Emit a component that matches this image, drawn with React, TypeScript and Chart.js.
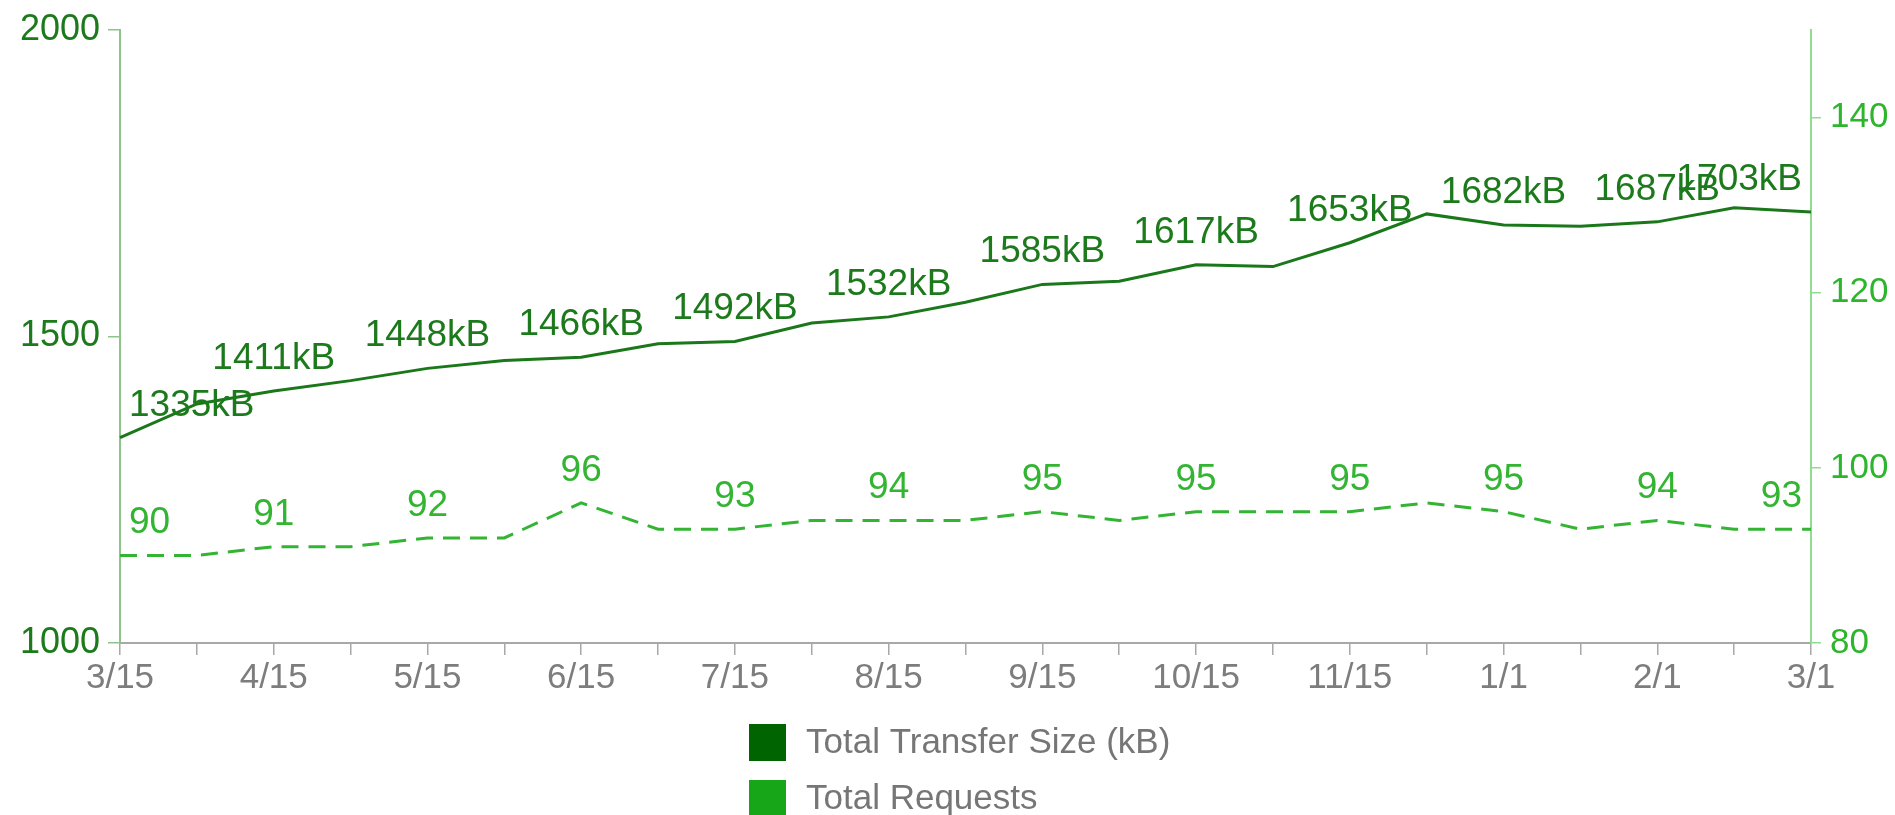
import React, { useEffect, useRef } from 'react';
import { Chart, registerables } from 'chart.js';

Chart.register(...registerables);

// ---- data ----
const dates = ['3/15', '4/1', '4/15', '5/1', '5/15', '6/1', '6/15', '7/1', '7/15', '8/1', '8/15', '9/1', '9/15', '10/1', '10/15', '11/1', '11/15', '12/15', '1/1', '1/15', '2/1', '2/15', '3/1'];
const xTickLabels = ['3/15', '', '4/15', '', '5/15', '', '6/15', '', '7/15', '', '8/15', '', '9/15', '', '10/15', '', '11/15', '', '1/1', '', '2/1', '', '3/1'];
const transferSizeKB = [1335, 1390, 1411, 1428, 1448, 1461, 1466, 1488, 1492, 1522, 1532, 1556, 1585, 1590, 1617, 1614, 1653, 1700, 1682, 1680, 1687, 1710, 1703];
const totalRequests = [90, 90, 91, 91, 92, 92, 96, 93, 93, 94, 94, 94, 95, 94, 95, 95, 95, 96, 95, 93, 94, 93, 93];
const labeledPoints = [0, 2, 4, 6, 8, 10, 12, 14, 16, 18, 20, 22];
const leftTicks = [1000, 1500, 2000];
const rightTicks = [80, 100, 120, 140];
const seriesNames = ['Total Transfer Size (kB)', 'Total Requests'];

const FONT = '"Liberation Sans", Arial, Helvetica, sans-serif';
const W = 1895;
const H = 815;

const labelColors = ['#1c7a1c', '#33b533'];
const labelFormat = [(v: number) => v + 'kB', (v: number) => String(v)];

const valueLabels = {
  id: 'valueLabels',
  afterDatasetsDraw(chart: any) {
    const { ctx, chartArea } = chart;
    chart.data.datasets.forEach((ds: any, di: number) => {
      const meta = chart.getDatasetMeta(di);
      ctx.save();
      ctx.font = '37px ' + FONT;
      ctx.fillStyle = labelColors[di];
      ctx.textBaseline = 'alphabetic';
      ctx.textAlign = 'left';
      labeledPoints.forEach((i) => {
        const pt = meta.data[i];
        if (!pt) return;
        const text = labelFormat[di](ds.data[i]);
        const w = ctx.measureText(text).width;
        let x = pt.x - w / 2;
        x = Math.max(chartArea.left + 9, Math.min(x, chartArea.right - 9 - w));
        ctx.fillText(text, x, pt.y - 22);
      });
      ctx.restore();
    });
  },
};

const stackedLegend = {
  id: 'stackedLegend',
  afterDraw(chart: any) {
    const { ctx, chartArea } = chart;
    const box = 37;
    const gap = 20;
    const rowStep = 56;
    const top = 724;
    ctx.save();
    ctx.font = '35px ' + FONT;
    let maxW = 0;
    chart.data.datasets.forEach((ds: any) => {
      maxW = Math.max(maxW, ctx.measureText(ds.label).width);
    });
    const blockW = box + gap + maxW;
    const x0 = Math.round((chartArea.left + chartArea.right) / 2 - blockW / 2) - 6;
    chart.data.datasets.forEach((ds: any, i: number) => {
      const y = top + i * rowStep;
      ctx.fillStyle = ds.backgroundColor;
      ctx.fillRect(x0, y, box, box);
      ctx.fillStyle = '#767676';
      ctx.textBaseline = 'middle';
      ctx.textAlign = 'left';
      ctx.fillText(ds.label, x0 + box + gap, y + box / 2 + 1);
    });
    ctx.restore();
  },
};

export default function App() {
  const canvasRef = useRef<HTMLCanvasElement | null>(null);

  useEffect(() => {
    if (!canvasRef.current) return;
    Chart.defaults.font.family = FONT;
    const chart = new Chart(canvasRef.current, {
      type: 'line',
      data: {
        labels: dates,
        datasets: [
          {
            label: seriesNames[0],
            data: transferSizeKB,
            yAxisID: 'y',
            borderColor: '#1a781a',
            backgroundColor: '#006400',
            borderWidth: 3,
            pointRadius: 0,
            tension: 0,
            fill: false,
          },
          {
            label: seriesNames[1],
            data: totalRequests,
            yAxisID: 'y1',
            borderColor: '#33b433',
            backgroundColor: '#17a617',
            borderWidth: 3,
            borderDash: [17, 10],
            pointRadius: 0,
            tension: 0,
            fill: false,
          },
        ],
      },
      options: {
        responsive: false,
        animation: false,
        devicePixelRatio: 1,
        layout: { padding: { top: 26, left: 0, right: 0, bottom: 0 } },
        plugins: {
          legend: { display: false },
          tooltip: { enabled: false },
        },
        scales: {
          x: {
            type: 'category',
            offset: false,
            grid: {
              drawOnChartArea: false,
              drawTicks: true,
              tickLength: 12,
              tickColor: '#a8a8a8',
              lineWidth: 1.5,
            },
            border: { display: true, color: '#a8a8a8', width: 2 },
            ticks: {
              autoSkip: false,
              maxRotation: 0,
              minRotation: 0,
              padding: 2,
              color: '#7d7d7d',
              font: { size: 35, family: FONT },
              callback: (_v: any, i: number) => xTickLabels[i],
            },
            afterFit: (s: any) => {
              s.height = H - 643;
            },
          },
          y: {
            type: 'linear',
            position: 'left',
            min: 1000,
            max: 2000,
            grid: {
              drawOnChartArea: false,
              drawTicks: true,
              tickLength: 12,
              tickColor: '#8cc48c',
              lineWidth: 1.5,
            },
            border: { display: true, color: '#8cc48c', width: 2 },
            ticks: {
              padding: 8,
              color: '#1c7a1c',
              font: { size: 36, family: FONT },
              callback: (v: any) => String(v),
            },
            afterBuildTicks: (s: any) => {
              s.ticks = leftTicks.map((v) => ({ value: v }));
            },
            afterFit: (s: any) => {
              s.width = 120;
            },
          },
          y1: {
            type: 'linear',
            position: 'right',
            min: 80,
            max: 150,
            grid: {
              drawOnChartArea: false,
              drawTicks: true,
              tickLength: 10,
              tickColor: '#90dc90',
              lineWidth: 1.5,
            },
            border: { display: true, color: '#90dc90', width: 2 },
            ticks: {
              padding: 9,
              color: '#2db52d',
              font: { size: 35, family: FONT },
              callback: (v: any) => String(v),
            },
            afterBuildTicks: (s: any) => {
              s.ticks = rightTicks.map((v) => ({ value: v }));
            },
            afterFit: (s: any) => {
              s.width = W - 1811;
            },
          },
        },
      },
      plugins: [valueLabels, stackedLegend],
    } as any);
    return () => chart.destroy();
  }, []);

  return (
    <div style={{ position: 'fixed', left: 0, top: 0, width: W, height: H, background: '#fff' }}>
      <canvas ref={canvasRef} width={W} height={H} style={{ display: 'block', width: W, height: H }} />
    </div>
  );
}
